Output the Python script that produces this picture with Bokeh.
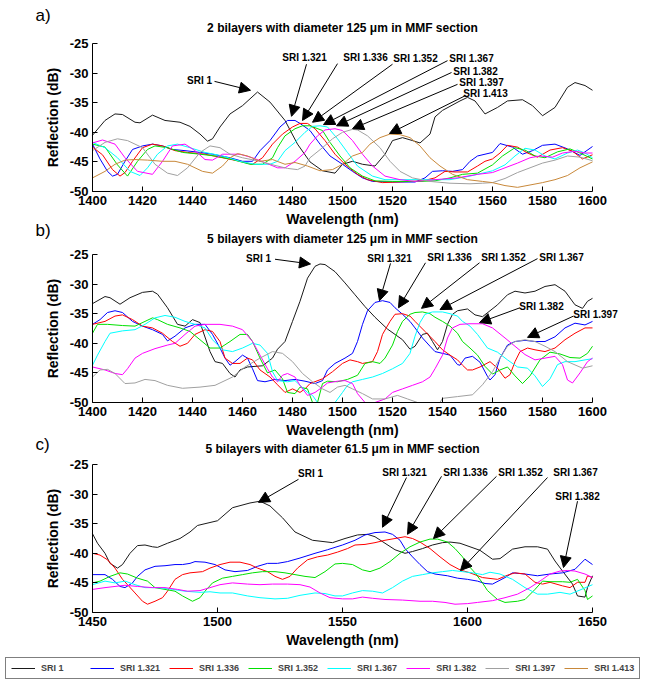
from bokeh.plotting import figure
from bokeh.models import (Range1d, Label, Arrow, NormalHead, Legend, LegendItem, FixedTicker,
                          LinearAxis)
from bokeh.embed import file_html
from bokeh.resources import INLINE

FONT = "Liberation Sans"
SERIES = ["SRI 1", "SRI 1.321", "SRI 1.336", "SRI 1.352", "SRI 1.367", "SRI 1.382", "SRI 1.397", "SRI 1.413"]
COLORS = ["#1a1a1a", "#0000ff", "#ff0000", "#00e000", "#00ffff", "#ff00ff", "#a0a0a0", "#c8883a"]

AB_X_TICKS = [1400, 1420, 1440, 1460, 1480, 1500, 1520, 1540, 1560, 1580, 1600]
C_X_TICKS = [1450, 1500, 1550, 1600, 1650]
Y_TICKS = [-50, -45, -40, -35, -30, -25]

# ---------------- panel a: 2 bilayers, 125 um ----------------
A_SRI1_X = [1400,1405,1409,1412,1417,1419,1424,1429,1435,1439,1443,1446,1448,1451,1455,1460,1466,1471,1477,1482,1487,1492,1497,1500,1504,1508,1513,1517,1520,1524,1528,1531,1535,1537,1540,1547,1550,1553,1557,1562,1566,1572,1576,1580,1585,1590,1593,1597,1600]
A_SRI1_Y = [-40.5,-38,-36.9,-37,-38.3,-38.4,-37.1,-38,-38.3,-39,-40.3,-41.5,-41.1,-39.1,-36.9,-35.5,-33.2,-34.9,-38,-42,-45,-46.5,-46.9,-45.4,-44.9,-45.4,-45.7,-43.7,-41.4,-40.9,-41.4,-41.8,-40.3,-37.4,-36.3,-34.7,-34.1,-34.7,-36.9,-35.8,-34.7,-34.5,-35.5,-37.2,-35.8,-32.4,-31.6,-32.1,-32.9]
A_1321_X = [1400,1403,1406,1408,1410,1413,1416,1420,1424,1428,1432,1437,1443,1448,1455,1460,1464,1467,1471,1475,1478,1481,1483,1487,1491,1495,1500,1504,1508,1512,1520,1529,1533,1536,1540,1544,1548,1551,1554,1557,1560,1563,1568,1572,1576,1580,1585,1590,1595,1600]
A_1321_Y = [-42,-44.5,-46.6,-47.4,-47.1,-44.9,-42.9,-42.3,-42,-42.3,-42.9,-43.1,-43.4,-43.7,-44.3,-44.9,-44.9,-43.1,-41.4,-39.1,-38,-38,-38.5,-39.7,-42,-44,-45.4,-46.6,-47.7,-48.3,-48.4,-48.4,-47.7,-46.6,-46.5,-46.6,-46.3,-44.9,-44,-43.7,-43.4,-41.9,-42.5,-43.7,-43.1,-42.2,-42,-42.8,-43.9,-42.4]
A_1336_X = [1400,1404,1408,1411,1413,1416,1420,1424,1428,1433,1438,1445,1452,1459,1464,1468,1472,1476,1480,1483,1486,1489,1493,1497,1501,1506,1510,1516,1527,1532,1537,1541,1545,1550,1554,1557,1560,1563,1566,1570,1574,1578,1583,1588,1592,1596,1600]
A_1336_Y = [-42.5,-43.8,-46.3,-47.4,-46.8,-44.9,-42.6,-42,-42.3,-43.1,-43.4,-43.7,-44.3,-44.9,-45.4,-44.3,-42,-40.3,-39.1,-38.5,-38.5,-39.4,-41.4,-43.7,-45.4,-47.1,-48,-48.5,-48.3,-48.2,-47.7,-46.6,-46.7,-46.7,-45.7,-44.9,-44.5,-43.5,-42.2,-42.5,-43.5,-44.2,-43,-42.6,-43.2,-44.5,-43.8]
A_1352_X = [1400,1405,1410,1414,1418,1422,1425,1430,1436,1443,1449,1456,1463,1468,1472,1474,1477,1481,1484,1487,1492,1495,1499,1503,1508,1513,1520,1531,1537,1543,1548,1554,1560,1564,1569,1573,1577,1581,1586,1591,1595,1600]
A_1352_Y = [-42,-42.5,-45.5,-47.4,-44.9,-42.9,-42.3,-42.6,-43.4,-43.7,-44,-44.6,-45.4,-45.4,-44.3,-42.6,-40.6,-39.4,-38.9,-38.9,-39.7,-41.7,-44,-46,-47.4,-48.2,-48.3,-48.3,-48.2,-47.7,-47.1,-46.9,-45.5,-44,-42.6,-43,-44,-44.3,-43.3,-42.8,-43.5,-44.5]
A_1367_X = [1400,1405,1410,1415,1419,1422,1426,1430,1434,1439,1445,1452,1459,1465,1471,1474,1477,1481,1485,1488,1491,1494,1498,1502,1506,1512,1517,1527,1535,1543,1551,1556,1560,1565,1569,1573,1577,1581,1585,1590,1594,1597,1600]
A_1367_Y = [-41.7,-42.6,-44.3,-46.6,-47.3,-46,-43.7,-42.3,-42,-42.6,-43.4,-44,-44.9,-45.4,-45.4,-44.9,-43.1,-41.7,-40,-39,-38.9,-39.1,-41.1,-43.4,-45.7,-47.4,-48,-48,-48,-48,-47.4,-46.9,-46.5,-45.5,-44,-42.7,-43,-44,-44.5,-43.5,-43,-43.5,-44.3]
A_1382_X = [1400,1404,1409,1413,1418,1424,1428,1432,1437,1441,1445,1448,1452,1459,1464,1470,1474,1477,1481,1485,1487,1490,1493,1497,1500,1504,1508,1512,1517,1523,1529,1537,1546,1554,1560,1565,1570,1575,1579,1584,1588,1593,1597,1600]
A_1382_Y = [-41.8,-41.3,-42,-44.3,-46.6,-47.1,-44.9,-42.3,-42,-43.1,-44.6,-44.7,-43.7,-43.7,-44.3,-45.3,-46,-46,-44.9,-43.4,-42,-40.6,-39.6,-39.4,-39.7,-41.4,-43.7,-45.7,-47.4,-48,-48.3,-48,-47.7,-47.1,-46.8,-46,-45.2,-44.3,-44,-44.2,-43.5,-43.2,-43.5,-43.5]
A_1397_X = [1400,1405,1410,1414,1420,1425,1430,1434,1438,1443,1447,1451,1455,1460,1467,1473,1478,1482,1485,1487,1492,1496,1500,1504,1506,1510,1515,1519,1523,1528,1535,1543,1551,1556,1560,1565,1570,1575,1580,1585,1590,1595,1600]
A_1397_Y = [-43.1,-41.7,-41.1,-41.4,-42.6,-45.4,-46.9,-47.3,-46,-43.4,-42.3,-42.6,-43.7,-44.3,-44.9,-45.6,-46.1,-46.3,-45.7,-44.3,-42.6,-41.1,-40,-39.5,-39.6,-40.6,-42.6,-44.9,-46.6,-47.7,-48.3,-48.6,-48.7,-48.6,-48.5,-47.8,-46.8,-46,-45.2,-44.7,-44,-44.2,-44.8]
A_1413_X = [1400,1405,1409,1413,1417,1422,1428,1433,1438,1444,1448,1452,1455,1458,1462,1467,1472,1477,1481,1486,1491,1496,1500,1504,1508,1511,1515,1519,1523,1527,1531,1535,1539,1544,1550,1556,1560,1565,1570,1575,1580,1585,1590,1595,1600]
A_1413_Y = [-47.7,-46.6,-45.4,-44.7,-44.6,-44.7,-44.9,-44.9,-45.4,-46.6,-46.9,-45.7,-44.3,-43.6,-44,-44.9,-44.6,-45.4,-45.1,-45.7,-46.5,-46.3,-45.4,-44,-43.4,-42,-40.9,-40.3,-40.4,-40.9,-42.3,-44.3,-45.7,-47.1,-48,-48.3,-48.5,-49,-49.3,-48.9,-48.5,-48,-47.3,-46,-45]

# ---------------- panel b: 5 bilayers, 125 um (values at the -50 floor are off-scale) ----------------
B_SRI1_X = [1400,1405,1407,1411,1415,1420,1424,1426,1430,1434,1437,1440,1443,1447,1449,1452,1455,1457,1459,1462,1468,1472,1474,1477,1480,1483,1486,1489,1491,1493,1497,1501,1505,1509,1513,1518,1524,1527,1529,1532,1534,1536,1538,1540,1542,1544,1546,1550,1553,1556,1562,1566,1569,1573,1577,1581,1585,1589,1593,1596,1598,1600]
B_SRI1_Y = [-33.3,-32.1,-32.3,-33.4,-32.3,-31.4,-31.2,-31.7,-34,-36.8,-37.1,-36,-36.5,-41.4,-43.1,-43.4,-45.1,-45.7,-44.5,-44,-43.8,-42.5,-41,-39.7,-36.3,-32.9,-29,-27,-26.6,-26.7,-27.9,-29.8,-31.8,-33.8,-35.6,-37.6,-39.4,-41,-40.5,-38.5,-38.3,-39.7,-41.1,-39.7,-36.8,-35.1,-34.5,-34.2,-35.2,-35.5,-33.5,-31.8,-31.2,-31.5,-31.2,-30.4,-30.1,-31.2,-33.5,-34.1,-32.9,-32.4]
B_1321_X = [1400,1403,1406,1409,1412,1416,1420,1424,1428,1430,1433,1437,1441,1445,1448,1451,1453,1455,1457,1460,1462,1464,1466,1469,1473,1477,1481,1485,1489,1492,1494,1497,1501,1504,1506,1508,1510,1513,1516,1519,1521,1524,1527,1529,1532,1535,1537,1540,1543,1546,1547,1549,1552,1555,1558,1559,1561,1563,1566,1569,1573,1577,1581,1585,1589,1593,1597,1600]
B_1321_Y = [-36.8,-36,-34.8,-34.5,-34.8,-36.3,-37.1,-37.7,-38.5,-39.6,-38.8,-37.4,-36.8,-36.8,-38.5,-40.8,-42.5,-43.7,-43.1,-42,-42.5,-44.3,-46.3,-46.5,-46.1,-46.3,-46.1,-46.4,-46.8,-46.3,-44.5,-43.4,-42.5,-41.7,-39.7,-36.8,-34.5,-33.1,-32.8,-33.1,-34,-35.1,-36.3,-37.4,-39.1,-40.5,-41.4,-41.7,-42,-43.6,-43.7,-42.5,-42.2,-43.2,-45.6,-46.2,-45.3,-42.5,-40.3,-39.7,-39.5,-39.7,-39.7,-38.9,-37.4,-36.6,-36.9,-36.3]
B_1336_X = [1400,1405,1409,1412,1416,1420,1424,1428,1432,1435,1438,1441,1445,1448,1451,1453,1456,1459,1462,1464,1467,1471,1474,1477,1480,1483,1485,1487,1492,1496,1500,1503,1506,1508,1512,1514,1516,1519,1521,1524,1527,1529,1533,1537,1540,1543,1546,1548,1550,1552,1555,1559,1562,1565,1567,1569,1571,1574,1577,1581,1585,1589,1593,1597,1600]
B_1336_Y = [-36.8,-36.3,-35.4,-35.2,-36,-37.1,-37.4,-38.3,-39.7,-40.5,-40,-38.5,-37.7,-38,-39.7,-42.5,-43.4,-43.4,-42.5,-42.8,-44.5,-45.7,-47,-48.3,-47.7,-48.3,-47.7,-46.8,-46,-44.8,-43.4,-42.8,-43.1,-43.4,-43.1,-41.4,-38.5,-36.3,-35.1,-35,-35.4,-36.3,-38,-39.7,-41.1,-42,-42.8,-43.7,-44.5,-44.5,-44,-43.1,-44.2,-45.9,-45.3,-43.1,-41.4,-40.8,-41.1,-41.4,-40.8,-39.4,-38.3,-37.4,-37.4]
B_1352_X = [1400,1402,1406,1412,1417,1421,1424,1426,1430,1435,1439,1443,1447,1451,1455,1459,1462,1464,1467,1470,1473,1476,1478,1481,1483,1486,1488,1490,1492,1494,1498,1502,1506,1509,1512,1515,1517,1520,1522,1524,1527,1529,1532,1535,1537,1540,1543,1546,1548,1551,1554,1557,1560,1563,1566,1569,1572,1575,1579,1583,1587,1591,1595,1598,1600]
B_1352_Y = [-38.3,-36.8,-36.8,-37,-37.1,-36.3,-35.7,-36,-36.8,-37.4,-38,-39.4,-40.8,-40.8,-39.7,-38.5,-38.5,-39.7,-42.5,-45,-44.5,-46,-48.3,-48.5,-47.4,-47.7,-50,-50,-46.8,-46.4,-46.5,-46.1,-45.4,-43.4,-43.1,-43.4,-42.5,-40.3,-38,-36.3,-35.1,-34.8,-34.7,-35,-35.6,-36.3,-37.1,-38.3,-39.7,-40.8,-42,-43.9,-45.2,-44.5,-44,-45.5,-46.8,-45.5,-42.8,-41.5,-41.8,-42.4,-42.5,-41.7,-40.5]
B_1367_X = [1400,1402,1405,1407,1412,1417,1421,1425,1429,1433,1437,1441,1445,1448,1452,1456,1460,1464,1467,1470,1472,1474,1478,1481,1483,1486,1488,1490,1494,1497,1500,1502,1504,1508,1512,1516,1520,1524,1527,1529,1531,1533,1536,1540,1543,1546,1548,1551,1554,1558,1562,1566,1570,1574,1577,1580,1583,1586,1589,1593,1597,1600]
B_1367_Y = [-43.7,-42,-39.7,-38.3,-37.9,-37.7,-36.8,-35.7,-35.3,-35.6,-36.3,-36.8,-37.4,-39.4,-41.1,-41.4,-40.8,-40,-40.3,-41.7,-44.8,-46.3,-46.5,-46.3,-47.1,-48.3,-48.8,-50,-50,-50,-48.3,-47.1,-46.5,-46.1,-45.7,-45.1,-44.3,-43.4,-41.7,-38.8,-36.5,-35.1,-34.7,-34.7,-35,-35.4,-36.3,-37.1,-38.5,-40.8,-41.5,-42.8,-44,-44.2,-45.5,-47.3,-46,-43.6,-43.1,-43.1,-42.8,-42.6]
B_1382_X = [1400,1405,1409,1412,1414,1417,1420,1425,1430,1433,1437,1441,1445,1451,1456,1460,1464,1467,1470,1472,1474,1476,1478,1481,1483,1486,1489,1492,1494,1498,1501,1504,1506,1509,1513,1517,1520,1524,1528,1532,1535,1537,1540,1542,1544,1547,1551,1556,1560,1565,1569,1573,1577,1581,1585,1588,1590,1592,1595,1598,1600]
B_1382_Y = [-44,-44.5,-45.1,-45.3,-44.3,-42.5,-41.7,-40.9,-40.3,-40,-38.5,-37.1,-36.8,-36.8,-37.1,-37.7,-39.7,-42,-44.3,-45.7,-46.5,-45.4,-45.1,-45.7,-47.1,-48.8,-48.3,-47.4,-46.7,-46.4,-46.3,-46.8,-48.5,-50,-50,-49.4,-48.3,-47.7,-47.1,-46.5,-45.7,-44.3,-42,-39.1,-37.4,-36.8,-36.7,-36.7,-37.4,-39.1,-40.5,-41.9,-42.8,-42.5,-42.2,-43.6,-46.2,-46.7,-45,-43.1,-42.5]
B_1397_X = [1400,1403,1406,1409,1413,1417,1421,1425,1430,1436,1443,1449,1456,1461,1467,1472,1476,1480,1484,1488,1492,1495,1498,1501,1504,1508,1512,1517,1522,1526,1530,1533,1539,1540,1546,1552,1556,1560,1563,1566,1569,1573,1577,1581,1585,1590,1596,1600]
B_1397_Y = [-45.7,-44.5,-44.4,-45.1,-46.8,-46.7,-46.1,-46.3,-47.1,-47.6,-47.4,-47.1,-45.7,-44,-42.5,-41.4,-41.7,-43.1,-45.1,-46.5,-47.7,-48.3,-47.4,-47.1,-47.7,-48.5,-49.4,-49.4,-48.8,-49.4,-50,-50,-50,-49.3,-49,-48.7,-47,-44.8,-42.5,-40.5,-39.7,-39.4,-39.7,-40.5,-41.4,-43.1,-44.2,-43.8]

# ---------------- panel c: 5 bilayers, 61.5 um ----------------
C_SRI1_X = [1450,1452,1455,1457,1460,1462,1465,1468,1471,1474,1476,1480,1485,1489,1492,1495,1500,1506,1513,1517,1521,1526,1531,1538,1546,1551,1556,1560,1563,1567,1571,1575,1578,1582,1586,1590,1593,1597,1601,1605,1610,1613,1618,1623,1628,1632,1635,1638,1642,1644,1647,1648,1650]
C_SRI1_Y = [-36.7,-38.3,-40,-41.7,-42.5,-41.9,-40,-38.7,-38.6,-38.9,-39,-38.3,-37.5,-36.4,-35.3,-35,-34.5,-32.3,-31.5,-31.2,-32,-34,-36.4,-37.8,-38.2,-37.5,-36.9,-36.8,-37.2,-38.3,-39.4,-40,-39.7,-39.2,-38.6,-38.2,-38.1,-38.3,-38.9,-39.5,-41,-40.9,-39.3,-38.9,-38.9,-39.3,-41.3,-43,-45.2,-47.2,-47.4,-45.8,-43.8]
C_1321_X = [1450,1455,1458,1461,1463,1466,1468,1471,1475,1479,1483,1486,1489,1491,1495,1499,1503,1507,1512,1516,1520,1524,1528,1533,1539,1544,1550,1555,1559,1563,1567,1570,1573,1575,1578,1581,1584,1587,1592,1596,1600,1604,1607,1610,1615,1618,1623,1628,1633,1638,1643,1647,1650]
C_1321_Y = [-43.6,-43.6,-44.4,-45.6,-45.8,-45,-43.9,-42.8,-42.2,-42.1,-41.9,-41.9,-41.7,-41.4,-41.5,-41.9,-42.8,-43.1,-42.9,-42.2,-41.7,-41.7,-41.4,-40.8,-40,-39.4,-38.6,-37.8,-36.9,-36.5,-36.4,-36.8,-37.8,-39.2,-40.6,-41.9,-43.1,-43.5,-43.8,-44.2,-44.4,-44.7,-45.1,-45.2,-44.1,-43.3,-43.5,-43.8,-43.5,-43.3,-42.7,-41,-41.9]
C_1336_X = [1450,1453,1456,1459,1462,1464,1467,1470,1472,1475,1478,1480,1483,1486,1489,1494,1497,1501,1505,1509,1513,1516,1520,1523,1526,1529,1532,1536,1540,1544,1548,1552,1555,1559,1563,1567,1571,1575,1578,1581,1585,1589,1593,1597,1601,1606,1612,1616,1619,1623,1627,1630,1633,1638,1641,1644,1647,1648,1650]
C_1336_Y = [-40,-40.3,-41.1,-42.5,-44.4,-45.3,-46.7,-48.1,-48.6,-48.1,-47.5,-46.4,-44.4,-43.6,-43.3,-43.1,-42.5,-41.9,-41.5,-41.5,-41.9,-42.5,-43.1,-43.9,-44.4,-43.9,-42.5,-41.1,-40.6,-40.3,-39.8,-39.2,-38.6,-38.5,-38.2,-37.8,-37.5,-37.2,-37.5,-38.1,-39.2,-40.6,-41.9,-42.8,-43.3,-44.1,-44.4,-43.7,-43.3,-43.5,-44.9,-45.2,-44.9,-45.5,-45.8,-44.9,-44.9,-43.8,-44.1]
C_1352_X = [1450,1453,1457,1461,1464,1468,1472,1475,1479,1483,1486,1490,1493,1495,1498,1502,1506,1510,1514,1518,1523,1527,1531,1535,1539,1543,1547,1550,1554,1558,1561,1565,1569,1573,1577,1581,1585,1588,1592,1595,1598,1600,1603,1606,1608,1612,1615,1620,1623,1627,1630,1633,1638,1641,1644,1647,1648,1650]
C_1352_Y = [-45,-44.7,-43.9,-43.3,-43.5,-44.2,-44.7,-45.8,-46.1,-46.4,-47.2,-48.1,-47.5,-46.4,-45,-44.2,-43.9,-43.6,-43.3,-43.1,-43.1,-43.3,-43.6,-43.9,-44.1,-43.1,-41.8,-41.7,-41.9,-42.8,-43.1,-42.5,-41.4,-40,-38.9,-38.1,-37.6,-37.6,-38.1,-39.2,-40.6,-41.9,-43.3,-45,-46.3,-47.8,-48.3,-48.1,-47.8,-46.1,-44.7,-44.8,-44.8,-44.9,-44.4,-46.3,-47.8,-47.2]
C_1367_X = [1450,1455,1459,1463,1467,1471,1476,1482,1487,1493,1497,1501,1506,1512,1517,1523,1528,1533,1539,1543,1547,1550,1554,1558,1562,1566,1570,1574,1578,1582,1586,1590,1594,1598,1602,1606,1609,1613,1618,1623,1628,1632,1637,1641,1645,1650]
C_1367_Y = [-45.3,-44.7,-45,-44.7,-45.3,-45.8,-45.8,-46.1,-46.4,-46.6,-46.5,-46.7,-46.7,-47.2,-47.5,-47.7,-47.6,-47.1,-46.7,-46.8,-47.2,-47.2,-46.7,-46.3,-46.4,-46.7,-45.8,-44.7,-43.9,-43.6,-43.3,-43.1,-42.9,-43.1,-43.3,-43.6,-43.2,-43.5,-44.4,-45.8,-46.9,-46.9,-46.6,-46.9,-46.2,-45.3]
C_1382_X = [1450,1455,1459,1463,1468,1474,1479,1484,1488,1493,1497,1501,1506,1512,1517,1522,1528,1533,1537,1541,1545,1550,1554,1558,1562,1567,1574,1581,1586,1591,1595,1600,1604,1610,1615,1620,1625,1630,1633,1637,1640,1643,1647,1650]
C_1382_Y = [-46.1,-45.8,-45.6,-45.4,-45.6,-45.8,-45.8,-46.1,-46.4,-46.3,-45.8,-45.3,-45,-45.2,-45.3,-45.2,-45.2,-45.3,-45.7,-46.7,-47.5,-47.7,-47.7,-47.4,-47.6,-47.8,-47.9,-48.1,-48.1,-48.3,-48.6,-48.5,-48.3,-48,-47.5,-46.9,-45.8,-44.4,-43.5,-43,-42.9,-43,-43.5,-44.1]

PANEL_A = [(A_SRI1_X, A_SRI1_Y), (A_1321_X, A_1321_Y), (A_1336_X, A_1336_Y), (A_1352_X, A_1352_Y),
           (A_1367_X, A_1367_Y), (A_1382_X, A_1382_Y), (A_1397_X, A_1397_Y), (A_1413_X, A_1413_Y)]
PANEL_B = [(B_SRI1_X, B_SRI1_Y), (B_1321_X, B_1321_Y), (B_1336_X, B_1336_Y), (B_1352_X, B_1352_Y),
           (B_1367_X, B_1367_Y), (B_1382_X, B_1382_Y), (B_1397_X, B_1397_Y)]
PANEL_C = [(C_SRI1_X, C_SRI1_Y), (C_1321_X, C_1321_Y), (C_1336_X, C_1336_Y), (C_1352_X, C_1352_Y),
           (C_1367_X, C_1367_Y), (C_1382_X, C_1382_Y)]

# callouts: (text, text_x, text_y, tail_x, tail_y, head_x, head_y) in each panel's data units
A_NOTES = [("SRI 1", 1442.8, -31.3, 1448.8, -31.4, 1463.2, -32.9),
           ("SRI 1.321", 1484.8, -27.4, 1485.6, -28.5, 1479.6, -37.3),
           ("SRI 1.336", 1509.2, -27.4, 1498.0, -28.4, 1484.0, -38.0),
           ("SRI 1.352", 1529.2, -27.5, 1520.0, -28.5, 1488.0, -38.3),
           ("SRI 1.367", 1551.6, -27.5, 1542.0, -27.9, 1492.4, -38.7),
           ("SRI 1.382", 1553.2, -29.7, 1543.6, -29.9, 1497.6, -38.9),
           ("SRI 1.397", 1555.6, -31.6, 1546.0, -31.9, 1504.0, -39.4),
           ("SRI 1.413", 1557.2, -33.4, 1549.2, -33.8, 1518.8, -40.2)]
B_NOTES = [("SRI 1", 1466.4, -25.7, 1473.0, -25.8, 1487.2, -26.6),
           ("SRI 1.321", 1518.8, -25.7, 1519.2, -26.5, 1514.8, -32.8),
           ("SRI 1.336", 1542.8, -25.5, 1533.2, -26.4, 1522.4, -34.0),
           ("SRI 1.352", 1564.4, -25.5, 1554.8, -26.4, 1531.6, -34.1),
           ("SRI 1.367", 1587.6, -25.5, 1578.0, -25.7, 1539.0, -34.3),
           ("SRI 1.382", 1579.6, -33.8, 1571.0, -34.0, 1554.8, -36.5),
           ("SRI 1.397", 1601.2, -35.1, 1592.4, -35.4, 1574.0, -39.0)]
C_NOTES = [("SRI 1", 1537.2, -26.5, 1532.4, -27.5, 1516.4, -31.4),
           ("SRI 1.321", 1574.8, -26.4, 1575.6, -27.2, 1566.0, -35.6),
           ("SRI 1.336", 1599.2, -26.4, 1589.6, -27.0, 1576.0, -36.8),
           ("SRI 1.352", 1621.2, -26.4, 1611.6, -27.0, 1586.4, -37.5),
           ("SRI 1.367", 1643.2, -26.4, 1632.0, -27.2, 1597.2, -42.9),
           ("SRI 1.382", 1644.0, -30.4, 1644.0, -31.2, 1638.4, -42.4)]

# ---------------- page layout (pixels) ----------------
W, H = 645, 680
AX_LEFT, AX_RIGHT = 92, 592
PANELS = [
    dict(key="a", xlim=(1400, 1600), top=43, bottom=191, ticks=AB_X_TICKS, series=PANEL_A, notes=A_NOTES,
         title="2 bilayers with diameter 125 \u03bcm in MMF section", title_y=27, tag="a)", tag_y=15),
    dict(key="b", xlim=(1400, 1600), top=254, bottom=402, ticks=AB_X_TICKS, series=PANEL_B, notes=B_NOTES,
         title="5 bilayers with diameter 125 \u03bcm in MMF section", title_y=238, tag="b)", tag_y=230),
    dict(key="c", xlim=(1450, 1650), top=464, bottom=612, ticks=C_X_TICKS, series=PANEL_C, notes=C_NOTES,
         title="5 bilayers with diameter 61.5 \u03bcm in MMF section", title_y=448, tag="c)", tag_y=444),
]

extra_x, extra_y = {}, {}
for pn in PANELS:
    x0, x1 = pn["xlim"]
    sx = (x1 - x0) / (AX_RIGHT - AX_LEFT)
    extra_x["x" + pn["key"]] = Range1d(x0 - AX_LEFT * sx, x1 + (W - AX_RIGHT) * sx)
    sy = 25.0 / (pn["bottom"] - pn["top"])
    extra_y["y" + pn["key"]] = Range1d(-50 - (H - pn["bottom"]) * sy, -25 + pn["top"] * sy)

p = figure(width=W, height=H, x_range=Range1d(0, W), y_range=Range1d(H, 0),
           output_backend="svg", toolbar_location=None, min_border=0,
           x_axis_location=None, y_axis_location=None)
p.extra_x_ranges = extra_x
p.extra_y_ranges = extra_y
p.outline_line_color = None
p.background_fill_color = "white"
p.border_fill_color = "white"
p.grid.visible = False


def style_axis(ax):
    ax.major_tick_in = 5
    ax.major_tick_out = 0
    ax.minor_tick_line_color = None
    ax.axis_line_color = "black"
    ax.major_tick_line_color = "black"
    ax.major_label_text_font = FONT
    ax.major_label_text_font_style = "bold"
    ax.major_label_text_font_size = "13px"
    ax.major_label_text_color = "black"
    ax.axis_label_text_font = FONT
    ax.axis_label_text_font_style = "bold"
    ax.axis_label_text_font_size = "14px"
    ax.axis_label_text_color = "black"


legend_renderers = None
for pn in PANELS:
    xn, yn = "x" + pn["key"], "y" + pn["key"]
    rends = []
    for (xs, ys), color in zip(pn["series"], COLORS):
        rends.append(p.line(xs, ys, line_color=color, line_width=1, x_range_name=xn, y_range_name=yn))
    if legend_renderers is None:
        legend_renderers = rends

    xa = LinearAxis(x_range_name=xn, y_range_name=yn, fixed_location=-50, bounds=pn["xlim"],
                    ticker=FixedTicker(ticks=pn["ticks"]), axis_label="Wavelength (nm)")
    style_axis(xa)
    xa.major_label_standoff = 4
    xa.axis_label_standoff = 3
    p.add_layout(xa, "below")

    ya = LinearAxis(x_range_name=xn, y_range_name=yn, fixed_location=pn["xlim"][0], bounds=(-50, -25),
                    ticker=FixedTicker(ticks=Y_TICKS), axis_label="Reflection (dB)")
    style_axis(ya)
    ya.major_label_overrides = {t: str(t) for t in Y_TICKS}
    ya.major_label_standoff = 4
    ya.axis_label_standoff = 6
    p.add_layout(ya, "left")

    p.add_layout(Label(x=(AX_LEFT + AX_RIGHT) / 2, y=pn["title_y"], text=pn["title"], text_align="center",
                       text_baseline="middle", text_font=FONT, text_font_style="bold",
                       text_font_size="12px", text_color="black"))
    p.add_layout(Label(x=35, y=pn["tag_y"], text=pn["tag"], text_align="left",
                       text_baseline="middle", text_font=FONT, text_font_size="17px",
                       text_color="black"))
    for text, tx, ty, ax0, ay0, hx, hy in pn["notes"]:
        p.add_layout(Arrow(end=NormalHead(size=11, fill_color="black", line_color="black", line_width=1),
                           x_start=ax0, y_start=ay0, x_end=hx, y_end=hy,
                           x_range_name=xn, y_range_name=yn, line_color="black", line_width=1))
        p.add_layout(Label(x=tx, y=ty, text=text, text_align="center", text_baseline="middle",
                           x_range_name=xn, y_range_name=yn,
                           text_font=FONT, text_font_style="bold", text_font_size="10px",
                           text_color="black"))

items = [LegendItem(label=name, renderers=[r]) for name, r in zip(SERIES, legend_renderers)]
legend = Legend(items=items, orientation="horizontal", location=(5, 1),
                label_text_font=FONT, label_text_font_style="bold", label_text_font_size="9px",
                glyph_width=24, glyph_height=10, label_height=10, label_width=40,
                label_standoff=6, spacing=9, padding=5, margin=0,
                border_line_color="black", border_line_width=1, background_fill_alpha=1)
p.add_layout(legend, "center")

open("out.html", "w").write(file_html(p, INLINE))
